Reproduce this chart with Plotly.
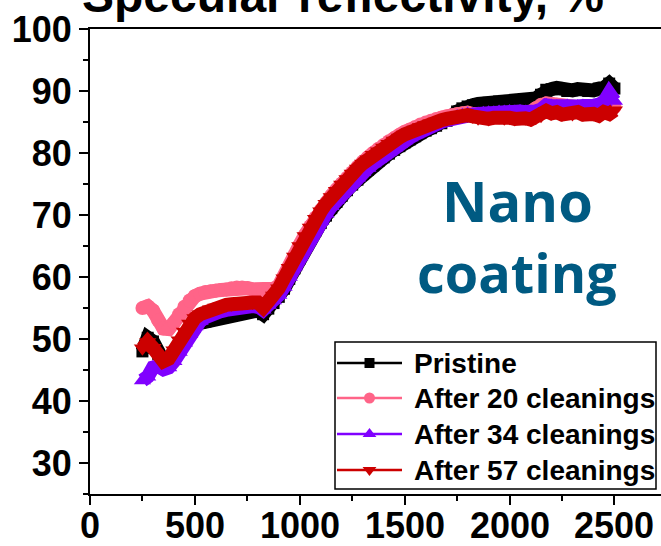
import plotly.graph_objects as go

# Wavelength grid (nm)
wavelength = list(range(250, 2501, 25))

# Specular reflectivity (%) for each condition
pristine = [
    48.0, 50.2, 49.6, 47.6, 46.4, 46.2, 46.8, 48.2, 49.7, 51.0,
    52.0, 52.6, 52.8, 53.1, 53.4, 53.6, 53.8, 54.0, 54.2, 54.4,
    54.5, 54.6, 54.6, 54.0, 54.9, 55.8, 56.8, 58.1, 59.7, 61.4,
    63.0, 64.6, 66.1, 67.5, 68.7, 69.9, 71.1, 72.1, 73.1, 74.0,
    74.9, 75.7, 76.6, 77.3, 78.0, 78.7, 79.3, 79.9, 80.5, 81.1,
    81.7, 82.2, 82.7, 83.2, 83.6, 84.0, 84.4, 84.8, 85.2, 85.9,
    86.7, 87.2, 87.5, 87.7, 87.9, 88.0, 88.1, 88.2, 88.3, 88.4,
    88.4, 88.5, 88.4, 88.5, 88.6, 88.8, 89.4, 90.2, 90.3, 90.5,
    90.3, 90.0, 90.1, 90.3, 90.2, 90.0, 90.1, 90.4, 90.5, 91.2,
    90.4,
]
after_20 = [
    55.0, 55.3, 54.6, 53.0, 51.7, 51.6, 52.6, 54.0, 55.2, 56.2,
    56.9, 57.3, 57.6, 57.7, 57.8, 57.9, 58.0, 58.2, 58.3, 58.3,
    58.2, 58.0, 57.9, 57.8, 57.9, 58.1, 58.6, 60.0, 61.7, 63.5,
    65.2, 66.8, 68.2, 69.6, 70.8, 72.0, 73.1, 74.1, 75.1, 76.0,
    76.9, 77.8, 78.6, 79.3, 80.0, 80.7, 81.3, 81.9, 82.4, 82.9,
    83.4, 83.8, 84.2, 84.6, 84.9, 85.2, 85.5, 85.7, 85.9, 86.1,
    86.3, 86.4, 86.5, 86.3, 86.2, 86.3, 86.1, 86.3, 86.4, 86.2,
    86.4, 86.2, 86.5, 86.4, 86.6, 87.2, 87.8, 88.0, 87.9, 87.8,
    87.5, 87.2, 87.1, 87.3, 87.0, 87.2, 87.1, 87.0, 87.3, 87.2,
    87.4,
]
after_34 = [
    43.3, 43.9, 45.4, 45.6, 45.1, 45.4, 46.4, 47.9, 49.4, 50.8,
    52.0, 52.9, 53.5, 54.0, 54.3, 54.5, 54.7, 54.9, 55.1, 55.2,
    55.3, 55.3, 55.3, 54.7, 55.5, 56.2, 57.1, 58.4, 60.0, 61.7,
    63.3, 64.9, 66.4, 67.8, 69.0, 70.2, 71.4, 72.4, 73.4, 74.3,
    75.2, 76.0, 76.9, 77.6, 78.3, 79.0, 79.6, 80.2, 80.8, 81.4,
    82.0, 82.5, 83.0, 83.5, 83.9, 84.3, 84.7, 85.0, 85.3, 85.6,
    85.9, 86.1, 86.3, 86.2, 86.3, 86.4, 86.5, 86.5, 86.6, 86.6,
    86.7, 86.6, 86.7, 86.6, 86.5, 86.7, 87.0, 87.7, 87.6, 87.5,
    87.4, 87.6, 87.3, 87.5, 87.6, 87.4, 87.6, 87.8, 88.2, 89.6,
    88.4,
]
after_57 = [
    48.5, 49.5, 48.6, 47.1, 46.4, 46.8, 48.2, 49.8, 51.2, 52.5,
    53.4, 54.0, 54.4, 54.8, 55.1, 55.3, 55.5, 55.6, 55.8, 55.8,
    55.9, 55.9, 55.9, 55.1, 56.1, 57.0, 58.2, 59.8, 61.5, 63.3,
    65.0, 66.6, 68.0, 69.4, 70.6, 71.8, 72.9, 73.9, 74.9, 75.8,
    76.7, 77.5, 78.3, 79.0, 79.7, 80.3, 80.9, 81.5, 82.0, 82.5,
    83.0, 83.4, 83.8, 84.2, 84.5, 84.8, 85.1, 85.3, 85.5, 85.7,
    85.9, 86.0, 86.1, 85.9, 85.6, 85.8, 85.5, 85.7, 85.8, 85.6,
    85.7, 85.5, 85.8, 85.6, 85.4, 85.7, 86.0, 86.8, 86.4, 86.6,
    86.2, 86.5, 86.3, 86.6, 86.2, 86.5, 86.3, 86.0, 86.6, 86.3,
    86.9,
]

# Bottom axis tick values / labels
x_tick_values = [0, 500, 1000, 1500, 2000, 2500]
x_tick_labels = ["0", "500", "1000", "1500", "2000", "2500"]

series_names = ["Pristine", "After 20 cleanings", "After 34 cleanings", "After 57 cleanings"]
series_values = [pristine, after_20, after_34, after_57]
colors = ["#000000", "#ff6488", "#8000ff", "#cc0000"]
symbols = ["square", "circle", "triangle-up", "triangle-down"]
band_marker_sizes = [12, 14, 15, 15]
legend_marker_sizes = [10, 11, 12, 12]

FONT = "Liberation Sans, Arial, sans-serif"

# Plot box in pixels (figure is 661 x 546)
L, R, T, B = 90, 661, 29, 494


def py(pixel_y):
    """Pixel row -> paper y."""
    return (B - pixel_y) / (B - T)


fig = go.Figure()

# Dense measured curves drawn as thick bands of symbols
for name, values, color, symbol, msize in zip(series_names, series_values, colors,
                                              symbols, band_marker_sizes):
    fig.add_trace(go.Scatter(
        x=wavelength, y=values, mode="lines+markers", name=name,
        line=dict(color=color, width=14),
        marker=dict(symbol=symbol, size=msize, color=color),
        showlegend=False, hoverinfo="skip",
    ))

# Hand-laid legend, drawn on a pixel-unit overlay axis pair
leg_left, leg_right, leg_top, leg_bottom = 335, 656, 342, 489
row_y = [363, 398, 434, 470]
line_x0, line_x1, text_x = 337, 402, 412

shapes = [dict(type="rect", xref="x2", yref="y2",
               x0=leg_left, x1=leg_right, y0=leg_top, y1=leg_bottom,
               line=dict(color="black", width=1.5), fillcolor="white", layer="below")]
annotations = []
for name, color, symbol, msize, ry in zip(series_names, colors, symbols,
                                          legend_marker_sizes, row_y):
    shapes.append(dict(type="line", xref="x2", yref="y2",
                       x0=line_x0, x1=line_x1, y0=ry, y1=ry,
                       line=dict(color=color, width=2.5), layer="below"))
    annotations.append(dict(text=name, xref="x2", yref="y2", x=text_x, y=ry,
                            xanchor="left", yanchor="middle", showarrow=False,
                            font=dict(family=FONT, size=28, color="black", weight="bold")))
    fig.add_trace(go.Scatter(
        x=[(line_x0 + line_x1) / 2], y=[ry], xaxis="x2", yaxis="y2",
        mode="markers", marker=dict(symbol=symbol, size=msize, color=color),
        showlegend=False, hoverinfo="skip", cliponaxis=False,
    ))

# Bottom-axis tick labels
for v, lab in zip(x_tick_values, x_tick_labels):
    annotations.append(dict(text=lab, xref="x", yref="paper", x=v, y=py(525),
                            xanchor="center", yanchor="middle", showarrow=False,
                            font=dict(family=FONT, size=36, color="black", weight="bold")))

annotations += [
    dict(text="Specular reflectivity, %", xref="paper", yref="paper",
         x=(343 - L) / (R - L), y=py(-4), xanchor="center", yanchor="middle",
         showarrow=False,
         font=dict(family=FONT, size=48, color="black", weight="bold")),
    dict(text="Nano", xref="x2", yref="y2",
         x=517, y=200, xanchor="center", yanchor="middle", showarrow=False,
         font=dict(family="Open Sans, sans-serif", size=56, color="#005a82", weight="bold")),
    dict(text="coating", xref="x2", yref="y2",
         x=517, y=272, xanchor="center", yanchor="middle", showarrow=False,
         font=dict(family="Open Sans, sans-serif", size=54, color="#005a82", weight="bold")),
]

fig.update_layout(
    width=661, height=546,
    margin=dict(l=L, r=661 - R, t=T, b=546 - B),
    paper_bgcolor="white", plot_bgcolor="white",
    showlegend=False,
    xaxis=dict(
        range=[0, 2722], tickvals=x_tick_values, showticklabels=False, automargin=False,
        showgrid=False, zeroline=False,
        showline=True, linecolor="black", linewidth=2, mirror=True,
        ticks="outside", ticklen=9, tickwidth=2, tickcolor="black",
        minor=dict(ticks="outside", ticklen=5, tickwidth=2, tickcolor="black",
                   tick0=0, dtick=250),
    ),
    yaxis=dict(
        range=[25, 100], dtick=10, tick0=0, automargin=False,
        showgrid=False, zeroline=False,
        showline=True, linecolor="black", linewidth=2, mirror=False,
        ticks="outside", ticklen=9, tickwidth=2, tickcolor="black",
        tickfont=dict(family=FONT, size=36, color="black", weight="bold"),
        minor=dict(ticks="outside", ticklen=5, tickwidth=2, tickcolor="black", dtick=5),
    ),
    xaxis2=dict(range=[L, R], overlaying="x", anchor="y2", visible=False,
                automargin=False, fixedrange=True),
    yaxis2=dict(range=[B, T], overlaying="y", anchor="x2", visible=False,
                automargin=False, fixedrange=True),
    shapes=shapes,
    annotations=annotations,
)

fig.write_html("out.html")
